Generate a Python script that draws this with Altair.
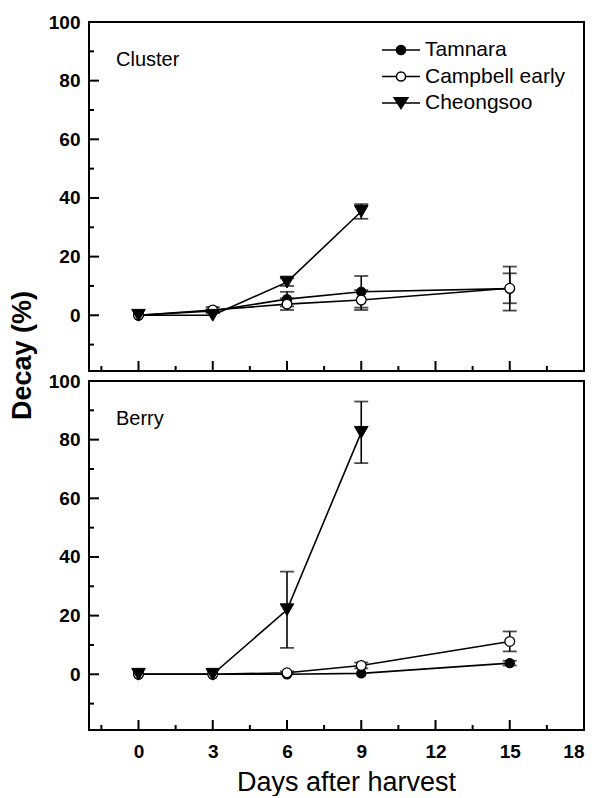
import altair as alt
import pandas as pd

# ---------------- data ----------------
varieties = ["Tamnara", "Campbell early", "Cheongsoo"]
days = [0, 3, 6, 9, 15]
days_cheongsoo = [0, 3, 6, 9]

cluster_tamnara = [0, 1.5, 5.5, 8.0, 9.1]
cluster_tamnara_err = [0, 0.5, 2.5, 5.4, 7.5]
cluster_campbell = [0, 1.8, 3.8, 5.2, 9.2]
cluster_campbell_err = [0, 1.0, 2.0, 3.4, 5.1]
cluster_cheongsoo = [0, 0, 11.3, 35.4]
cluster_cheongsoo_err = [0, 0, 1.3, 2.5]

berry_tamnara = [0, 0, 0, 0.3, 3.8]
berry_tamnara_err = [0, 0, 0, 0, 0.8]
berry_campbell = [0, 0, 0.5, 3.0, 11.2]
berry_campbell_err = [0, 0, 0.5, 1.0, 3.4]
berry_cheongsoo = [0, 0, 22.0, 82.5]
berry_cheongsoo_err = [0, 0, 13.0, 10.5]

x_major = [0, 3, 6, 9, 12, 15, 18]
x_minor = [-1.5, 1.5, 4.5, 7.5, 10.5, 13.5, 16.5]
y_major = [0, 20, 40, 60, 80, 100]
y_minor = [-10, 10, 30, 50, 70, 90]

panel_labels = ["Cluster", "Berry"]


def make_df(t, te, c, ce, s, se):
    rows = []
    for name, xs, m, e in [
        ("Tamnara", days, t, te),
        ("Campbell early", days, c, ce),
        ("Cheongsoo", days_cheongsoo, s, se),
    ]:
        for d, v, er in zip(xs, m, e):
            rows.append({"variety": name, "day": d, "mean": v, "err": er,
                         "lo": v - er, "hi": v + er})
    return pd.DataFrame(rows)


cluster_df = make_df(cluster_tamnara, cluster_tamnara_err, cluster_campbell,
                     cluster_campbell_err, cluster_cheongsoo, cluster_cheongsoo_err)
berry_df = make_df(berry_tamnara, berry_tamnara_err, berry_campbell,
                   berry_campbell_err, berry_cheongsoo, berry_cheongsoo_err)

# ---------------- styling ----------------
W, H = 495, 349
FONT = "Liberation Sans"
xscale = alt.Scale(domain=[-2, 18], nice=False, zero=False)
yscale = alt.Scale(domain=[-19, 100], nice=False, zero=False)

legend_paths = [
    "M-1,0L1,0M0.24,0A0.24,0.24,0,1,1,-0.24,0A0.24,0.24,0,1,1,0.24,0Z",
    "M-1,0L-0.24,0M0.24,0L1,0M0.24,0A0.24,0.24,0,1,1,-0.24,0A0.24,0.24,0,1,1,0.24,0Z",
    "M-1,0L1,0M-0.36,-0.27L0.36,-0.27L0,0.29Z",
]


def x_axis(show):
    if not show:
        return None
    return alt.Axis(values=x_major, ticks=False, tickSize=0, domain=False, grid=False,
                    labelFont=FONT, labelFontSize=19, labelFontWeight="bold",
                    labelColor="black", labelPadding=12,
                    title="Days after harvest", titleFont=FONT, titleFontSize=27,
                    titleFontWeight="normal", titleColor="black",
                    titleX=257, titleY=52, titleAlign="center", titleBaseline="middle")


def y_axis(with_title):
    kw = dict(values=y_major, ticks=False, tickSize=0, domain=False, grid=False,
              labelFont=FONT, labelFontSize=19, labelFontWeight="bold",
              labelColor="black", labelPadding=9)
    if with_title:
        kw.update(title="Decay (%)", titleFont=FONT, titleFontSize=27,
                  titleFontWeight="bold", titleColor="black", titleX=-67, titleY=333,
                  titleAngle=270, titleAlign="center", titleBaseline="middle")
    else:
        kw.update(title=None)
    return alt.Axis(**kw)


def panel(df, label, show_x, with_title, with_legend):
    xa = x_axis(show_x)
    ya = y_axis(with_title)
    X = lambda f: alt.X(f, type="quantitative", scale=xscale, axis=xa)
    Y = lambda f: alt.Y(f, type="quantitative", scale=yscale, axis=ya)

    lines = alt.Chart(df).mark_line(color="black", strokeWidth=1.6).encode(
        x=X("day"), y=Y("mean"), detail="variety:N", order="day:Q")

    eb = df[df["err"] > 0]
    rules = alt.Chart(eb).mark_rule(color="black", strokeWidth=1.6).encode(
        x=X("day"), y=Y("lo"), y2="hi")
    cap_lo = alt.Chart(eb).mark_tick(orient="horizontal", size=14, thickness=1.8,
                                     color="black").encode(x=X("day"), y=Y("lo"))
    cap_hi = alt.Chart(eb).mark_tick(orient="horizontal", size=14, thickness=1.8,
                                     color="black").encode(x=X("day"), y=Y("hi"))

    pts_t = alt.Chart(df[df["variety"] == "Tamnara"]).mark_point(
        shape="circle", filled=True, fill="black", stroke="black", strokeWidth=1.2,
        size=85, opacity=1).encode(x=X("day"), y=Y("mean"))
    pts_c = alt.Chart(df[df["variety"] == "Campbell early"]).mark_point(
        shape="circle", filled=True, fill="white", stroke="black", strokeWidth=1.3,
        size=95, opacity=1).encode(x=X("day"), y=Y("mean"))
    pts_s = alt.Chart(df[df["variety"] == "Cheongsoo"]).mark_point(
        shape="triangle-down", filled=True, fill="black", stroke="black",
        strokeWidth=1.0, size=185, opacity=1).encode(x=X("day"), y=Y("mean"))

    xt_major = alt.Chart(pd.DataFrame({"v": x_major})).mark_rule(
        color="black", strokeWidth=2).encode(x=X("v"), y=alt.value(H), y2=alt.value(H - 10))
    xt_minor = alt.Chart(pd.DataFrame({"v": x_minor})).mark_rule(
        color="black", strokeWidth=2).encode(x=X("v"), y=alt.value(H), y2=alt.value(H - 5))
    yt_major = alt.Chart(pd.DataFrame({"v": y_major})).mark_rule(
        color="black", strokeWidth=2).encode(y=Y("v"), x=alt.value(0), x2=alt.value(10))
    yt_minor = alt.Chart(pd.DataFrame({"v": y_minor})).mark_rule(
        color="black", strokeWidth=2).encode(y=Y("v"), x=alt.value(0), x2=alt.value(5))

    txt = alt.Chart(pd.DataFrame({"label": [label]})).mark_text(
        align="left", baseline="middle", font=FONT, fontSize=20, color="black").encode(
        text="label:N", x=alt.value(27), y=alt.value(38))

    layers = [xt_major, xt_minor, yt_major, yt_minor, lines, rules, cap_lo, cap_hi,
              pts_t, pts_c, pts_s, txt]

    if with_legend:
        leg = alt.Legend(orient="none", legendX=292, legendY=16, title=None,
                         symbolSize=1444, symbolStrokeWidth=1.5, symbolStrokeColor="black",
                         symbolOpacity=1, labelFont=FONT, labelFontSize=21,
                         labelColor="black", labelOffset=4, labelLimit=300,
                         clipHeight=24, rowPadding=2.5, padding=0)
        leg_df = pd.DataFrame({"variety": varieties})
        legend_layer = alt.Chart(leg_df).mark_point(
            opacity=0, filled=True, strokeWidth=1.5).encode(
            x=alt.value(0), y=alt.value(0),
            shape=alt.Shape("variety:N", scale=alt.Scale(domain=varieties, range=legend_paths),
                            legend=leg),
            fill=alt.Fill("variety:N", scale=alt.Scale(domain=varieties,
                                                       range=["black", "white", "black"]),
                          legend=leg),
            stroke=alt.Stroke("variety:N", scale=alt.Scale(domain=varieties,
                                                           range=["black", "black", "black"]),
                              legend=leg),
        )
        layers.append(legend_layer)

    return alt.layer(*layers).properties(width=W, height=H)


top = panel(cluster_df, panel_labels[0], show_x=False, with_title=True, with_legend=True)
bottom = panel(berry_df, panel_labels[1], show_x=True, with_title=False, with_legend=False)

chart = alt.vconcat(top, bottom, spacing=10, bounds="flush").properties(
    padding={"left": -1, "top": 4, "right": 0, "bottom": 0}
).configure(font=FONT).configure_view(stroke="black", strokeWidth=2)

chart.save("out.html", embed_options={"renderer": "svg", "actions": False})
